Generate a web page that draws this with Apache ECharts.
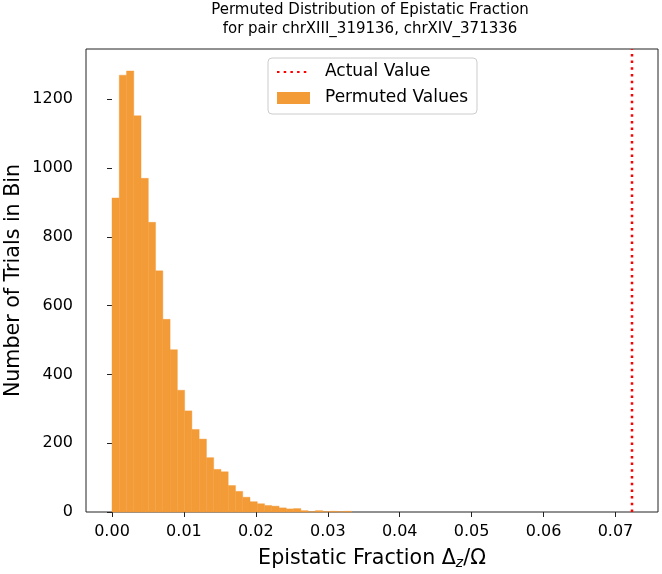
<!DOCTYPE html>
<html><head><meta charset="utf-8">
<script src="https://cdn.jsdelivr.net/npm/echarts@6/dist/echarts.min.js"></script>
<style>html,body{margin:0;padding:0;background:#fff}#c{width:662px;height:574px}</style>
</head><body><div id="c"></div>
<script>
// Histogram of permuted values (bin start, bin width, counts per bin)
const binStart = 0;
const binWidth = 0.00101;
const counts = [913, 1270, 1282, 1152, 970, 842, 701, 560, 472, 354, 294, 240, 212, 158, 124, 117, 77, 60, 43, 30, 24, 19, 17, 12, 9, 10, 4, 1, 4, 1, 2, 1, 2];
const actualValue = 0.0723;
const xTicks = [0.00, 0.01, 0.02, 0.03, 0.04, 0.05, 0.06, 0.07];
const yTicks = [0, 200, 400, 600, 800, 1000, 1200];
const titleLines = ['Permuted Distribution of Epistatic Fraction', 'for pair chrXIII_319136, chrXIV_371336'];
const xMin = -0.003615, xMax = 0.075915, yMax = 1346;

const barColor = '#f39b37';
const font = 'DejaVu Sans';
const ink = '#222';

const histData = counts.map((c, i) => [binStart + i * binWidth, binStart + (i + 1) * binWidth, c]);

const chart = echarts.init(document.getElementById('c'), null, {renderer: 'canvas'});
chart.setOption({
  animation: false,
  textStyle: {fontFamily: font, color: '#000'},
  grid: {left: 86, right: 4, top: 49, bottom: 62, containLabel: false, outerBoundsMode: 'none',
         show: true, borderColor: ink, borderWidth: 1, backgroundColor: 'transparent'},
  graphic: [
    {type: 'text', x: 370, y: 10.5, style: {text: titleLines[0], font: '15px "DejaVu Sans"', fill: '#000', textAlign: 'center', textVerticalAlign: 'middle'}},
    {type: 'text', x: 370, y: 29.5, style: {text: titleLines[1], font: '15px "DejaVu Sans"', fill: '#000', textAlign: 'center', textVerticalAlign: 'middle'}}
  ],
  legend: {
    orient: 'vertical', left: 268, top: 58,
    itemWidth: 33, itemHeight: 12, itemGap: 6,
    padding: [4, 9, 6, 8],
    borderColor: '#cccccc', borderWidth: 1, borderRadius: 4,
    backgroundColor: 'rgba(255,255,255,0.8)',
    textStyle: {fontFamily: font, fontSize: 17, color: '#000', lineHeight: 20, padding: [0, 0, 0, 10]},
    data: [{name: 'Actual Value', itemStyle: {opacity: 0}}, {name: 'Permuted Values', icon: 'rect'}]
  },
  xAxis: {
    type: 'value', min: xMin, max: xMax,
    axisLine: {show: false},
    splitLine: {show: false},
    axisTick: {show: true, length: 5, lineStyle: {color: ink, width: 1}, customValues: xTicks},
    axisLabel: {customValues: xTicks, formatter: v => v.toFixed(2), fontSize: 16, fontFamily: font, color: '#000', margin: 12},
    name: '{a|Epistatic Fraction Δ}{b|z}{a|/Ω}',
    nameLocation: 'middle', nameGap: 36, nameMoveOverlap: false,
    nameTextStyle: {
      rich: {
        a: {fontFamily: font, fontSize: 20.6, color: '#000'},
        b: {fontFamily: font, fontSize: 14, fontStyle: 'italic', color: '#000', padding: [8, 0, 0, 0]}
      }
    }
  },
  yAxis: {
    type: 'value', min: 0, max: yMax,
    axisLine: {show: false},
    splitLine: {show: false},
    axisTick: {show: true, length: 5, lineStyle: {color: ink, width: 1}, customValues: yTicks},
    axisLabel: {customValues: yTicks, formatter: v => String(v), fontSize: 16, fontFamily: font, color: '#000', margin: 13},
    name: 'Number of Trials in Bin',
    nameLocation: 'middle', nameGap: 62, nameMoveOverlap: false,
    nameTextStyle: {fontFamily: font, fontSize: 20.6, color: '#000'}
  },
  series: [
    {
      name: 'Permuted Values', type: 'custom',
      itemStyle: {color: barColor},
      encode: {x: [0, 1], y: 2},
      data: histData,
      renderItem: (params, api) => {
        const p0 = api.coord([api.value(0), 0]);
        const p1 = api.coord([api.value(1), api.value(2)]);
        return {type: 'rect', shape: {x: p0[0], y: p1[1], width: p1[0] - p0[0], height: p0[1] - p1[1]},
                style: {fill: barColor, stroke: barColor, lineWidth: 0.4}};
      },
      z: 2
    },
    {
      name: 'Actual Value', type: 'line',
      data: [[actualValue, 0], [actualValue, yMax]],
      symbol: 'none', showSymbol: false,
      itemStyle: {color: '#ff0000'},
      lineStyle: {color: '#ff0000', width: 2.5, type: [2.5, 4.2]},
      z: 3
    }
  ]
});
</script></body></html>
